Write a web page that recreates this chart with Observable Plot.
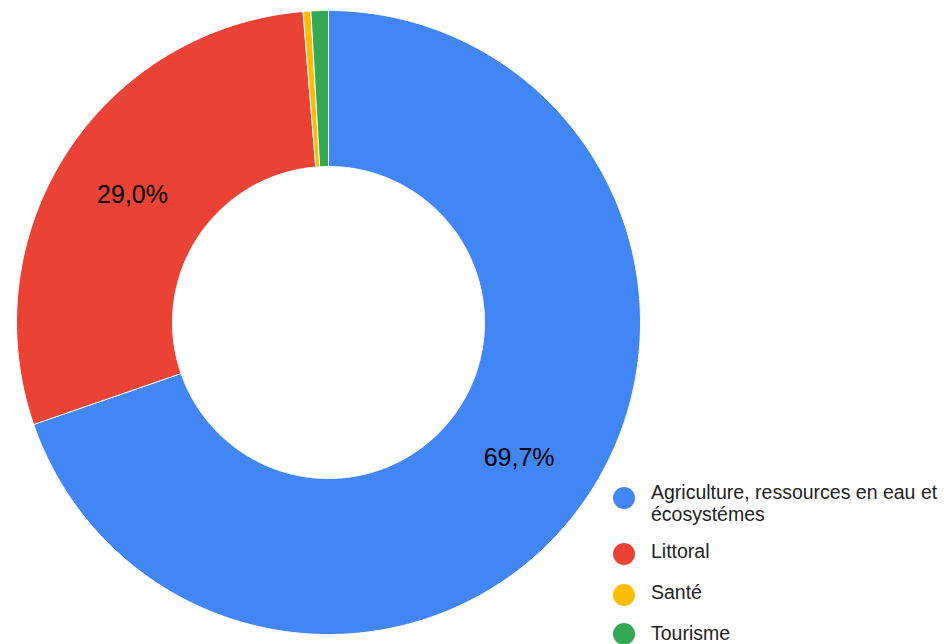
<!DOCTYPE html>
<html>
<head>
<meta charset="utf-8">
<script src="https://cdn.jsdelivr.net/npm/d3@7"></script>
<script src="https://cdn.jsdelivr.net/npm/@observablehq/plot@0.6"></script>
<style>
  html, body { margin: 0; padding: 0; background: #fff; }
  #wrap { position: relative; width: 944px; height: 644px; overflow: hidden; font-family: "Liberation Sans", Arial, sans-serif; }
  #wrap > svg { position: absolute; left: 0; top: 0; }
</style>
</head>
<body>
<div id="wrap"></div>
<script>
// ---- data ----
const categories = ["Agriculture, ressources en eau et écosystémes", "Littoral", "Santé", "Tourisme"];
const values = [69.7, 29.0, 0.4, 0.9];
const colors = ["#4285F4", "#EA4335", "#FBBC04", "#34A853"];
const legendLines = [["Agriculture, ressources en eau et", "écosystémes"], ["Littoral"], ["Santé"], ["Tourisme"]];

// ---- layout ----
const W = 944, H = 644;
const cx = 328, cy = 322, R = 312, rIn = 156;

const pie = d3.pie().sort(null).value(d => d.value);
const arcs = pie(categories.map((c, i) => ({category: c, value: values[i]})));

const pts = [];
arcs.forEach(a => {
  const n = Math.max(2, Math.ceil((a.endAngle - a.startAngle) / (Math.PI / 360)));
  const ring = [];
  for (let k = 0; k <= n; k++) {
    const t = a.startAngle + (a.endAngle - a.startAngle) * k / n;
    ring.push([Math.sin(t), Math.cos(t)]);
  }
  const outer = ring.map(([s, c]) => ({category: a.data.category, x: s, y: c}));
  const inner = ring.slice().reverse().map(([s, c]) => ({category: a.data.category, x: s * rIn / R, y: c * rIn / R}));
  pts.push(...outer, ...inner, outer[0]);
});

const labels = arcs.filter(a => a.data.value >= 5).map(a => {
  const m = (a.startAngle + a.endAngle) / 2;
  const rr = (1 + rIn / R) / 2;
  return {x: rr * Math.sin(m), y: rr * Math.cos(m), text: a.data.value.toFixed(1).replace(".", ",") + "%"};
});

const chart = Plot.plot({
  width: W,
  height: H,
  margin: 0,
  x: {axis: null, domain: [-cx / R, (W - cx) / R]},
  y: {axis: null, domain: [-(H - cy) / R, cy / R]},
  color: {domain: categories, range: colors},
  style: {fontFamily: "'Liberation Sans', Arial, sans-serif", background: "white"},
  marks: [
    Plot.line(pts, {x: "x", y: "y", z: "category", fill: "category", stroke: "white", strokeWidth: 1, curve: "linear"}),
    Plot.text(labels, {x: "x", y: "y", text: "text", fontSize: 25, fill: "#000", textAnchor: "middle"})
  ]
});
document.getElementById("wrap").appendChild(chart);

// ---- legend ----
const legendDotY = [498, 554, 595, 634];
const legendBaseY = [499, 558, 599, 640];
const lg = d3.select("#wrap").append("svg")
  .attr("width", W).attr("height", H)
  .style("position", "absolute").style("left", 0).style("top", 0);
categories.forEach((c, i) => {
  lg.append("circle").attr("cx", 624).attr("cy", legendDotY[i]).attr("r", 11).attr("fill", colors[i]);
  const t = lg.append("text").attr("x", 651).attr("y", legendBaseY[i])
    .attr("font-size", 19.5).attr("fill", "#222")
    .attr("font-family", "'Liberation Sans', Arial, sans-serif");
  legendLines[i].forEach((line, j) => {
    t.append("tspan").attr("x", 651).attr("dy", j === 0 ? 0 : 22).text(line);
  });
});
</script>
</body>
</html>
